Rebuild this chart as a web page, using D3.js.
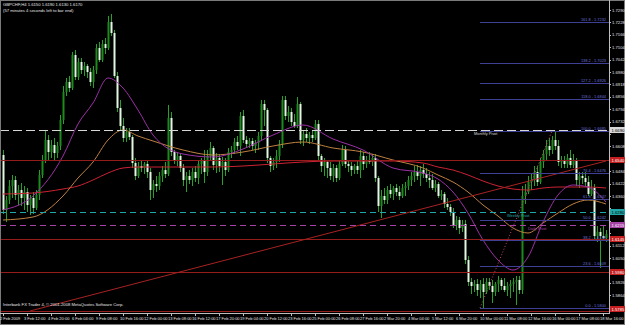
<!DOCTYPE html>
<html lang="en">
<head>
<meta charset="utf-8">
<title>GBPCHF,H4</title>
<script src="https://cdn.jsdelivr.net/npm/d3@7"></script>
<style>
  body { margin: 0; background: #000; }
  svg { display: block; }
  text { font-family: "Liberation Sans", Arial, sans-serif; }
</style>
</head>
<body>
<svg id="chart" width="625" height="325"></svg>
<script>
// H4 bars, 2 Feb 2009 .. 18 Mar 2009
var opens = [
  1.6565,1.6290,1.6340,1.6410,1.6440,1.6365,1.6390,1.6350,1.6380,1.6315,
  1.6350,1.6300,1.6365,1.6465,1.6540,1.6640,1.6580,1.6615,1.6575,1.6610,
  1.6740,1.6880,1.6930,1.6900,1.7065,1.6955,1.7030,1.6990,1.7010,1.6980,
  1.6930,1.6990,1.7100,1.7040,1.7120,1.7100,1.7230,1.7175,1.6960,1.6800,
  1.6710,1.6650,1.6680,1.6655,1.6525,1.6460,1.6510,1.6500,1.6520,1.6480,
  1.6390,1.6420,1.6410,1.6460,1.6490,1.6470,1.6750,1.6580,1.6540,1.6560,
  1.6500,1.6440,1.6460,1.6440,1.6480,1.6450,1.6520,1.6540,1.6480,1.6560,
  1.6600,1.6515,1.6550,1.6510,1.6530,1.6490,1.6580,1.6590,1.6630,1.6610,
  1.6760,1.6640,1.6620,1.6635,1.6610,1.6625,1.6660,1.6820,1.6790,1.6550,
  1.6510,1.6530,1.6560,1.6620,1.6840,1.6760,1.6780,1.6730,1.6710,1.6820,
  1.6640,1.6670,1.6650,1.6665,1.6650,1.6720,1.6560,1.6510,1.6530,1.6500,
  1.6460,1.6500,1.6450,1.6520,1.6590,1.6520,1.6510,1.6490,1.6510,1.6490,
  1.6560,1.6520,1.6540,1.6530,1.6550,1.6450,1.6310,1.6360,1.6340,1.6390,
  1.6370,1.6400,1.6380,1.6360,1.6400,1.6410,1.6440,1.6460,1.6480,1.6460,
  1.6490,1.6470,1.6450,1.6440,1.6400,1.6420,1.6360,1.6370,1.6320,1.6305,
  1.6280,1.6215,1.6240,1.6200,1.6220,1.6040,1.5930,1.5910,1.5920,1.5890,
  1.5920,1.5880,1.5930,1.5910,1.5880,1.5920,1.5940,1.5910,1.5890,1.5910,
  1.5920,1.5930,1.5940,1.5890,1.6360,1.6380,1.6430,1.6440,1.6480,1.6430,
  1.6530,1.6570,1.6610,1.6590,1.6640,1.6610,1.6530,1.6540,1.6520,1.6550,
  1.6515,1.6540,1.6440,1.6460,1.6450,1.6430,1.6370,1.6400,1.6160,1.6180,
  1.6160,1.6150];
var highs = [
  1.6590,1.6360,1.6440,1.6465,1.6460,1.6415,1.6425,1.6410,1.6400,1.6365,
  1.6380,1.6390,1.6490,1.6565,1.6690,1.6665,1.6640,1.6650,1.6630,1.6765,
  1.6910,1.6950,1.6960,1.7080,1.7090,1.7050,1.7050,1.7030,1.7020,1.7000,
  1.7010,1.7120,1.7130,1.7140,1.7150,1.7260,1.7270,1.7190,1.6980,1.6840,
  1.6750,1.6700,1.6700,1.6665,1.6550,1.6530,1.6540,1.6530,1.6540,1.6500,
  1.6440,1.6460,1.6480,1.6510,1.6530,1.6815,1.6780,1.6590,1.6580,1.6570,
  1.6520,1.6480,1.6490,1.6500,1.6510,1.6540,1.6550,1.6590,1.6590,1.6630,
  1.6610,1.6575,1.6570,1.6555,1.6550,1.6600,1.6610,1.6650,1.6660,1.6780,
  1.6790,1.6660,1.6650,1.6650,1.6640,1.6680,1.6840,1.6840,1.6800,1.6560,
  1.6550,1.6590,1.6640,1.6860,1.6860,1.6810,1.6800,1.6770,1.6855,1.6830,
  1.6690,1.6700,1.6680,1.6690,1.6740,1.6740,1.6570,1.6550,1.6540,1.6530,
  1.6520,1.6515,1.6540,1.6615,1.6610,1.6540,1.6530,1.6520,1.6540,1.6590,
  1.6580,1.6560,1.6580,1.6570,1.6570,1.6460,1.6390,1.6400,1.6410,1.6420,
  1.6410,1.6420,1.6410,1.6420,1.6430,1.6460,1.6480,1.6510,1.6515,1.6510,
  1.6520,1.6500,1.6480,1.6470,1.6440,1.6430,1.6390,1.6380,1.6350,1.6320,
  1.6300,1.6260,1.6255,1.6240,1.6240,1.6060,1.5950,1.5940,1.5945,1.5940,
  1.5950,1.5950,1.5950,1.5940,1.5930,1.5960,1.5950,1.5950,1.5930,1.5940,
  1.5950,1.5960,1.5960,1.6410,1.6420,1.6460,1.6470,1.6510,1.6510,1.6550,
  1.6590,1.6640,1.6650,1.6660,1.6685,1.6640,1.6560,1.6560,1.6570,1.6590,
  1.6570,1.6550,1.6480,1.6480,1.6480,1.6460,1.6440,1.6420,1.6210,1.6200,
  1.6210,1.6190];
var lows = [
  1.6270,1.6230,1.6320,1.6350,1.6340,1.6315,1.6310,1.6290,1.6280,1.6265,
  1.6270,1.6290,1.6340,1.6450,1.6525,1.6540,1.6550,1.6540,1.6550,1.6590,
  1.6720,1.6860,1.6880,1.6890,1.6940,1.6940,1.6970,1.6960,1.6950,1.6910,
  1.6900,1.6970,1.7030,1.7030,1.7070,1.7090,1.7160,1.6950,1.6780,1.6690,
  1.6630,1.6630,1.6640,1.6500,1.6440,1.6450,1.6480,1.6470,1.6450,1.6340,
  1.6350,1.6380,1.6390,1.6430,1.6450,1.6460,1.6560,1.6520,1.6510,1.6480,
  1.6410,1.6380,1.6420,1.6410,1.6430,1.6420,1.6470,1.6425,1.6460,1.6540,
  1.6490,1.6475,1.6480,1.6415,1.6460,1.6480,1.6550,1.6570,1.6590,1.6560,
  1.6625,1.6600,1.6600,1.6590,1.6575,1.6590,1.6640,1.6710,1.6525,1.6480,
  1.6490,1.6500,1.6530,1.6600,1.6740,1.6730,1.6710,1.6700,1.6700,1.6620,
  1.6610,1.6630,1.6620,1.6630,1.6640,1.6540,1.6480,1.6460,1.6450,1.6440,
  1.6430,1.6430,1.6440,1.6510,1.6500,1.6480,1.6460,1.6470,1.6470,1.6450,
  1.6490,1.6500,1.6520,1.6510,1.6430,1.6280,1.6250,1.6320,1.6320,1.6350,
  1.6340,1.6360,1.6340,1.6350,1.6360,1.6390,1.6410,1.6430,1.6440,1.6410,
  1.6450,1.6430,1.6400,1.6390,1.6380,1.6350,1.6340,1.6300,1.6290,1.6260,
  1.6200,1.6190,1.6170,1.6180,1.6020,1.5910,1.5870,1.5880,1.5860,1.5850,
  1.5800,1.5870,1.5890,1.5825,1.5860,1.5880,1.5890,1.5880,1.5860,1.5850,
  1.5880,1.5815,1.5870,1.5870,1.6320,1.6370,1.6390,1.6410,1.6410,1.6420,
  1.6500,1.6540,1.6560,1.6570,1.6590,1.6510,1.6500,1.6500,1.6500,1.6500,
  1.6500,1.6410,1.6400,1.6420,1.6410,1.6360,1.6360,1.6140,1.6130,1.6000,
  1.6140,1.6130];
var closes = [
  1.6290,1.6340,1.6410,1.6440,1.6365,1.6390,1.6350,1.6380,1.6315,1.6350,
  1.6300,1.6365,1.6465,1.6540,1.6640,1.6580,1.6615,1.6575,1.6610,1.6740,
  1.6880,1.6930,1.6900,1.7065,1.6955,1.7030,1.6990,1.7010,1.6980,1.6930,
  1.6990,1.7100,1.7040,1.7120,1.7100,1.7230,1.7175,1.6960,1.6800,1.6710,
  1.6650,1.6680,1.6655,1.6525,1.6460,1.6510,1.6500,1.6520,1.6480,1.6390,
  1.6420,1.6410,1.6460,1.6490,1.6470,1.6750,1.6580,1.6540,1.6560,1.6500,
  1.6440,1.6460,1.6440,1.6480,1.6450,1.6520,1.6540,1.6480,1.6560,1.6600,
  1.6515,1.6550,1.6510,1.6530,1.6490,1.6580,1.6590,1.6630,1.6610,1.6760,
  1.6640,1.6620,1.6635,1.6610,1.6625,1.6660,1.6820,1.6790,1.6550,1.6510,
  1.6530,1.6560,1.6620,1.6840,1.6760,1.6780,1.6730,1.6710,1.6820,1.6640,
  1.6670,1.6650,1.6665,1.6650,1.6720,1.6560,1.6510,1.6530,1.6500,1.6460,
  1.6500,1.6450,1.6520,1.6590,1.6520,1.6510,1.6490,1.6510,1.6490,1.6560,
  1.6520,1.6540,1.6530,1.6550,1.6450,1.6310,1.6360,1.6340,1.6390,1.6370,
  1.6400,1.6380,1.6360,1.6400,1.6410,1.6440,1.6460,1.6480,1.6460,1.6490,
  1.6470,1.6450,1.6440,1.6400,1.6420,1.6360,1.6370,1.6320,1.6305,1.6280,
  1.6215,1.6240,1.6200,1.6220,1.6040,1.5930,1.5910,1.5920,1.5890,1.5920,
  1.5880,1.5930,1.5910,1.5880,1.5920,1.5940,1.5910,1.5890,1.5910,1.5920,
  1.5930,1.5940,1.5890,1.6360,1.6380,1.6430,1.6440,1.6480,1.6430,1.6530,
  1.6570,1.6610,1.6590,1.6640,1.6610,1.6530,1.6540,1.6520,1.6550,1.6515,
  1.6540,1.6440,1.6460,1.6450,1.6430,1.6370,1.6400,1.6160,1.6180,1.6160,
  1.6150,1.6170];

// moving averages, read at these bars
var maBars   = [0,10,20,25,30,35,40,45,50,60,70,80,90,100,110,120,130,140,145,150,155,160,165,170,175,180,185,190,195,201];
var maFast   = [1.6290,1.6360,1.6560,1.6720,1.6825,1.6950,1.6900,1.6790,1.6665,1.6570,1.6555,1.6595,1.6665,1.6715,1.6645,
                1.6590,1.6500,1.6475,1.6445,1.6380,1.6275,1.6140,1.6040,1.5990,1.6055,1.6230,1.6365,1.6415,1.6405,1.6330];
var maMedium = [1.6240,1.6255,1.6360,1.6450,1.6530,1.6640,1.6690,1.6660,1.6635,1.6590,1.6565,1.6580,1.6610,1.6630,1.6600,
                1.6580,1.6540,1.6500,1.6465,1.6430,1.6380,1.6315,1.6260,1.6200,1.6175,1.6225,1.6275,1.6320,1.6340,1.6320];
var maSlow   = [1.6370,1.6375,1.6395,1.6410,1.6440,1.6475,1.6500,1.6505,1.6505,1.6505,1.6505,1.6510,1.6520,1.6530,1.6535,
                1.6535,1.6535,1.6525,1.6505,1.6490,1.6465,1.6435,1.6410,1.6395,1.6390,1.6400,1.6405,1.6405,1.6405,1.6400];

var timeLabels = ["2 Feb 2009","3 Feb 12:00","4 Feb 20:00","6 Feb 04:00","9 Feb 08:00","10 Feb 16:00","12 Feb 00:00",
  "13 Feb 08:00","16 Feb 12:00","17 Feb 20:00","19 Feb 04:00","20 Feb 12:00","23 Feb 16:00","25 Feb 00:00",
  "26 Feb 08:00","27 Feb 16:00","2 Mar 20:00","4 Mar 04:00","5 Mar 12:00","6 Mar 20:00","10 Mar 00:00",
  "11 Mar 08:00","12 Mar 16:00","16 Mar 00:00","17 Mar 08:00","18 Mar 16:00"];
var priceTicks = [1.7290,1.7228,1.7166,1.7104,1.7042,1.6980,1.6918,1.6856,1.6794,1.6732,1.6670,1.6608,1.6546,
  1.6484,1.6422,1.6360,1.6298,1.6236,1.6174,1.6112,1.6050,1.5988,1.5926,1.5864,1.5802];

// objects on the chart
var levelPrices = [1.6540, 1.6145, 1.5980, 1.5785];
var pivotNames  = ["Monthly Pivot", "Weekly Pivot", "Daily Pivot"];
var pivotPrices = [1.6690, 1.6280, 1.6215];
var fibLevels = [0, 23.6, 38.2, 50, 61.8, 76.4, 100, 118, 127.2, 138.2, 161.8];
var fibLow = 1.5800, fibHigh = 1.6685, fibFromBar = 159, fibToBar = 183;
var trendBars = [9, 201], trendPrices = [1.5785, 1.6535];

var svg = d3.select("#chart");
var right = 609, bottom = 313;

var x = d3.scaleLinear().domain([0, 201]).range([3, 606]);
var y = d3.scaleLinear().domain([1.5780, 1.7340]).range([312, 0]);

svg.append("rect").attr("width", 625).attr("height", 325).attr("fill", "#000");
svg.append("clipPath").attr("id", "clip")
  .append("rect").attr("x", 0).attr("y", 0).attr("width", right).attr("height", bottom);

var plot = svg.append("g").attr("clip-path", "url(#clip)");

// candles
var bars = d3.range(opens.length);
plot.selectAll(".wick").data(bars).join("rect")
  .attr("class", "wick")
  .attr("x", function(i) { return Math.round(x(i)); })
  .attr("y", function(i) { return y(highs[i]); })
  .attr("width", 1)
  .attr("height", function(i) { return Math.max(1, y(lows[i]) - y(highs[i])); })
  .attr("fill", "#27a127");
plot.selectAll(".body").data(bars).join("rect")
  .attr("class", "body")
  .attr("x", function(i) { return Math.round(x(i)) - 0.5; })
  .attr("y", function(i) { return y(Math.max(opens[i], closes[i])); })
  .attr("width", 2)
  .attr("height", function(i) { return Math.max(1, Math.abs(y(opens[i]) - y(closes[i]))); })
  .attr("fill", function(i) { return closes[i] >= opens[i] ? "#1d8a1d" : "#e2f7e2"; });

// moving averages
function maLine(vals) {
  return d3.line()
    .x(function(d, k) { return x(maBars[k]); })
    .y(function(d) { return y(d); })
    .curve(d3.curveMonotoneX)(vals);
}
[[maSlow, "#cc2233"], [maMedium, "#bf8142"], [maFast, "#9d31a6"]].forEach(function(m) {
  plot.append("path").attr("d", maLine(m[0]))
    .attr("fill", "none").attr("stroke", m[1]).attr("stroke-width", 1);
});

// red levels
plot.selectAll(".lvl").data(levelPrices).join("line")
  .attr("x1", 0).attr("x2", right)
  .attr("y1", function(d) { return Math.round(y(d)) + 0.5; })
  .attr("y2", function(d) { return Math.round(y(d)) + 0.5; })
  .attr("stroke", "#961c1c").attr("stroke-width", 1);

// trend line
plot.append("line")
  .attr("x1", x(trendBars[0])).attr("y1", y(trendPrices[0]))
  .attr("x2", x(trendBars[1])).attr("y2", y(trendPrices[1]))
  .attr("stroke", "#a82222").attr("stroke-width", 1);

// pivots
var pivotColors = ["#d8d8d8", "#21a7a7", "#a743a7"];
var pivotDash = ["9,4", "6,4", "6,4"];
var pivotTextBar = [157, 168, 175];
pivotPrices.forEach(function(p, k) {
  plot.append("line").attr("x1", 0).attr("x2", right)
    .attr("y1", Math.round(y(p)) + 0.5).attr("y2", Math.round(y(p)) + 0.5)
    .attr("stroke", pivotColors[k]).attr("stroke-dasharray", pivotDash[k]);
  plot.append("text").attr("x", x(pivotTextBar[k])).attr("y", y(p) + 4.5)
    .attr("font-size", 3.9).attr("fill", pivotColors[k]).text(pivotNames[k]);
});

// fibonacci
function fibPrice(l) { return fibLow + (fibHigh - fibLow) * l / 100; }
plot.selectAll(".fib").data(fibLevels).join("line")
  .attr("x1", x(fibFromBar)).attr("x2", right)
  .attr("y1", function(d) { return Math.round(y(fibPrice(d))) + 0.5; })
  .attr("y2", function(d) { return Math.round(y(fibPrice(d))) + 0.5; })
  .attr("stroke", "#3f3f93");
plot.selectAll(".fibt").data(fibLevels).join("text")
  .attr("x", 606).attr("y", function(d) { return y(fibPrice(d)) - 1; })
  .attr("text-anchor", "end").attr("font-size", 3.9).attr("fill", "#6a72dc")
  .text(function(d) { return d.toFixed(1) + " - " + fibPrice(d).toFixed(4); });
plot.append("line")
  .attr("x1", x(fibFromBar)).attr("y1", y(fibLow))
  .attr("x2", x(fibToBar)).attr("y2", y(fibHigh))
  .attr("stroke", "#c0456a").attr("stroke-dasharray", "1,2");

// frame
svg.append("rect").attr("x", 0.5).attr("y", 0.5).attr("width", 624).attr("height", 324)
  .attr("fill", "none").attr("stroke", "#7a7a7a");
svg.append("line").attr("x1", right + 0.5).attr("x2", right + 0.5).attr("y1", 0).attr("y2", bottom + 1)
  .attr("stroke", "#bdbdbd");
svg.append("line").attr("x1", 0).attr("x2", right + 1).attr("y1", bottom + 0.5).attr("y2", bottom + 0.5)
  .attr("stroke", "#bdbdbd");

// level boxes on the price axis
var boxes = [];
levelPrices.forEach(function(p) { boxes.push([p, "#c41e1e", "#fff"]); });
pivotPrices.forEach(function(p, k) { boxes.push([p, pivotColors[k], k == 2 ? "#fff" : "#000"]); });
function boxY(p) { return Math.min(y(p), 309); }

// price axis (labels hidden where a level box sits)
var shownTicks = priceTicks.filter(function(t) {
  return boxes.every(function(b) { return Math.abs(boxY(b[0]) - y(t)) > 6; });
});
svg.selectAll(".pt").data(priceTicks).join("line")
  .attr("x1", right).attr("x2", right + 2)
  .attr("y1", function(d) { return Math.round(y(d)) + 0.5; })
  .attr("y2", function(d) { return Math.round(y(d)) + 0.5; })
  .attr("stroke", "#bdbdbd");
svg.selectAll(".ptl").data(shownTicks).join("text")
  .attr("x", 612).attr("y", function(d) { return y(d) + 1.5; })
  .attr("font-size", 4.2).attr("fill", "#e6e6e6")
  .text(function(d) { return d.toFixed(4); });

boxes.forEach(function(b) {
  var yy = boxY(b[0]);
  svg.append("rect").attr("x", 610).attr("y", yy - 3).attr("width", 15).attr("height", 6).attr("fill", b[1]);
  svg.append("text").attr("x", 611.5).attr("y", yy + 1.5).attr("font-size", 4.2).attr("fill", b[2])
    .text(b[0].toFixed(4));
});

// time axis
svg.selectAll(".tt").data(timeLabels).join("line")
  .attr("x1", function(d, k) { return Math.round(x(k * 8)) + 0.5; })
  .attr("x2", function(d, k) { return Math.round(x(k * 8)) + 0.5; })
  .attr("y1", bottom).attr("y2", bottom + 3)
  .attr("stroke", "#bdbdbd");
svg.selectAll(".ttl").data(timeLabels).join("text")
  .attr("x", function(d, k) { return x(k * 8) - 3; })
  .attr("y", 320)
  .attr("font-size", 4).attr("fill", "#e6e6e6")
  .text(function(d) { return d; });

// header and footer
var last = opens.length - 1;
svg.append("text").attr("x", 3).attr("y", 6).attr("font-size", 4.2).attr("fill", "#e6e6e6")
  .text("GBPCHF,H4  " + opens[last].toFixed(4) + " " + highs[last].toFixed(4) + " " +
        lows[last].toFixed(4) + " " + closes[last].toFixed(4));
svg.append("text").attr("x", 3).attr("y", 11.5).attr("font-size", 4.2).attr("fill", "#e6e6e6")
  .text("(57 minutes 4 seconds left to bar end)");
svg.append("text").attr("x", 3).attr("y", 306).attr("font-size", 4.2).attr("fill", "#e6e6e6")
  .text("Interbank FX Trader 4, \u00a9 2001-2008 MetaQuotes Software Corp.");
</script>
</body>
</html>
